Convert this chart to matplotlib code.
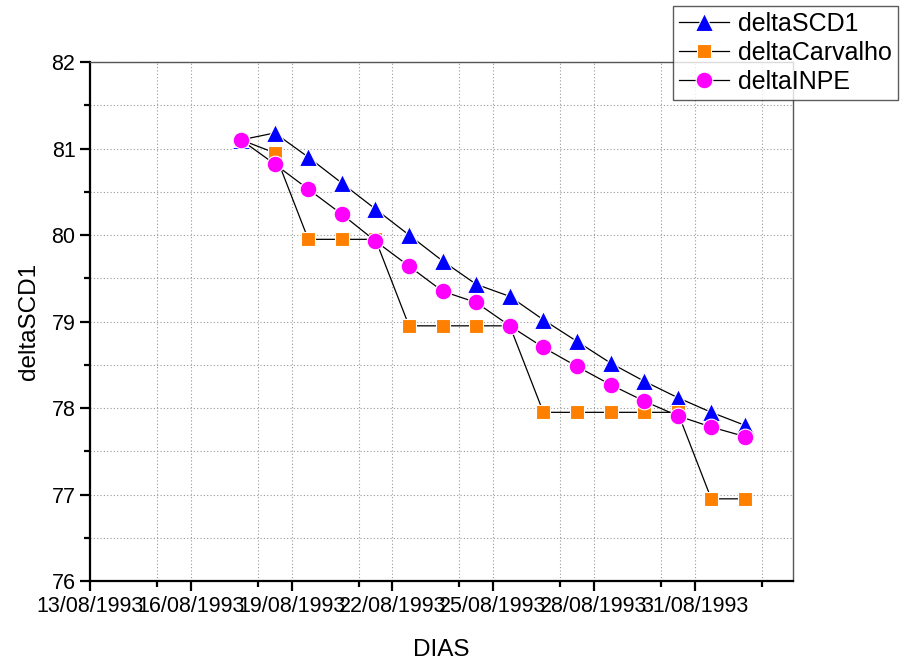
import datetime as dt
import matplotlib
matplotlib.use('Agg')
import matplotlib.pyplot as plt
import matplotlib.dates as mdates
from matplotlib.ticker import MultipleLocator

plt.rcParams['font.family'] = ['Liberation Sans', 'DejaVu Sans']

# dias: 17/08/1993 12h ate 01/09/1993 12h
dias = [dt.datetime(1993, 8, 17, 12) + dt.timedelta(days=i) for i in range(16)]

deltaSCD1 = [81.10, 81.18, 80.90, 80.60, 80.30, 80.00, 79.70, 79.43,
             79.29, 79.02, 78.77, 78.52, 78.31, 78.12, 77.95, 77.80]
deltaCarvalho = [81.10, 80.95, 79.95, 79.95, 79.95, 78.95, 78.95, 78.95,
                 78.95, 77.95, 77.95, 77.95, 77.95, 77.95, 76.95, 76.95]
deltaINPE = [81.10, 80.82, 80.53, 80.24, 79.93, 79.64, 79.35, 79.22,
             78.95, 78.70, 78.48, 78.27, 78.08, 77.91, 77.78, 77.67]

fig = plt.figure(figsize=(9, 6.64), dpi=100)
ax = fig.add_axes([0.1, 0.125, 0.781, 0.7816])

ax.plot(dias, deltaSCD1, '-', color='black', lw=0.9, marker='^', ms=12.5,
        mfc='#0000ff', mec='white', mew=0.8, label='deltaSCD1')
ax.plot(dias, deltaCarvalho, '-', color='black', lw=0.9, marker='s', ms=10,
        mfc='#ff8000', mec='white', mew=0.8, label='deltaCarvalho')
ax.plot(dias, deltaINPE, '-', color='black', lw=0.9, marker='o', ms=12,
        mfc='#ff00ff', mec='white', mew=0.8, label='deltaINPE')

x0 = dt.datetime(1993, 8, 13)
ax.set_xlim(x0, x0 + dt.timedelta(days=20.93))
ax.set_ylim(76, 82)

major_days = [x0 + dt.timedelta(days=3 * k) for k in range(7)]
minor_days = [x0 + dt.timedelta(days=3 * k + 2) for k in range(7)]
ax.set_xticks(major_days)
ax.set_xticks(minor_days, minor=True)
ax.xaxis.set_major_formatter(mdates.DateFormatter('%d/%m/%Y'))
ax.yaxis.set_major_locator(MultipleLocator(1))
ax.yaxis.set_minor_locator(MultipleLocator(0.5))

ax.grid(True, which='both', linestyle=(0, (1, 2)), color='#999999', lw=0.8)

for s in ['left', 'bottom']:
    ax.spines[s].set_linewidth(1.6)
    ax.spines[s].set_color('black')
for s in ['top', 'right']:
    ax.spines[s].set_linewidth(1.0)
    ax.spines[s].set_color('#555555')

ax.tick_params(which='major', direction='out', length=7, width=1.6,
               labelsize=15.5, top=False, right=False)
ax.tick_params(which='minor', direction='out', length=4, width=1.6,
               top=False, right=False)

ax.set_xlabel('DIAS', fontsize=17.5, labelpad=16)
ax.set_ylabel('deltaSCD1', fontsize=17.5, labelpad=8)

leg = fig.legend(loc='upper right', bbox_to_anchor=(0.998, 0.991),
                 fontsize=18, frameon=True, fancybox=False, edgecolor='#333333',
                 handlelength=2.0, handletextpad=0.35, borderpad=0.25,
                 labelspacing=0.2, borderaxespad=0)
leg.get_frame().set_linewidth(1.0)

fig.savefig('out.png', dpi=100)
